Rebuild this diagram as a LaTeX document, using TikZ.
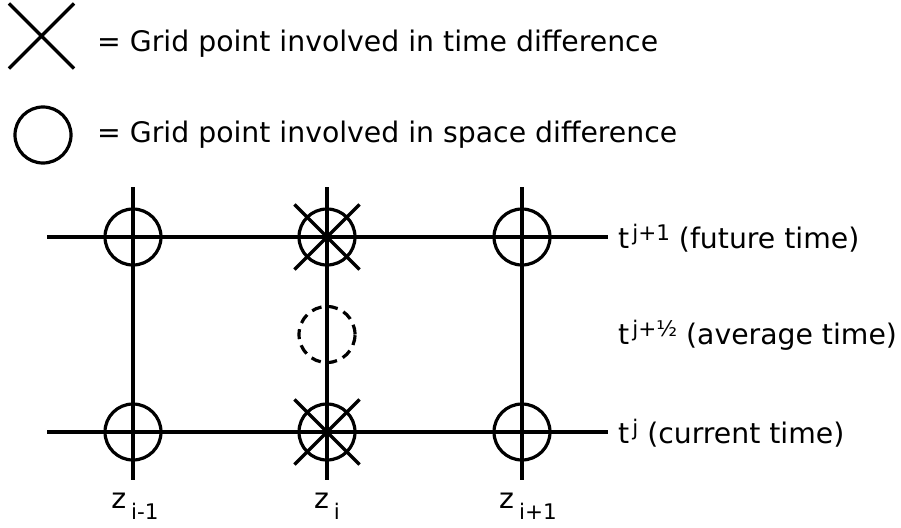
\documentclass[tikz,border=0pt]{standalone}
\usepackage{fontspec}
\setmainfont{DejaVu Sans}
\usetikzlibrary{shapes.misc, positioning}
\tikzstyle{gridline} = [line width=3.2pt]
\tikzstyle{spacept} = [circle, draw=black, line width=3.2pt,
minimum size=56pt, inner sep=0pt]
\tikzstyle{avgpt} = [spacept, dash pattern=on 10pt off 6.5pt]
\tikzstyle{timept} = [cross out, draw=black, line width=3.2pt,
minimum size=62pt, inner sep=0pt]
\tikzstyle{lbl} = [anchor=base west, inner sep=0pt,
font=\fontsize{28.3}{32}\selectfont]
\newcommand{\tsup}[1]{\kern3pt\raisebox{8pt}{\fontsize{21.5}{24}\selectfont #1}}
\newcommand{\zsub}[1]{\kern5pt\raisebox{-11pt}{\fontsize{21.5}{24}\selectfont #1}}

\begin{document}
\begin{tikzpicture}[x=1pt, y=-1pt]
        \useasboundingbox (0,0) rectangle (901,527);

        % Legend
        \node (keyx) [timept] at (41.5,36) {};
        \node (keyo) [spacept] at (43,135) {};
        \node (keyxtext) [lbl] at (97,52) {= Grid point involved in time difference};
        \node (keyotext) [lbl] at (97,142) {= Grid point involved in space difference};

        % Line ends
        \coordinate (futw) at (47,237);
        \coordinate (fute) at (608,237);
        \coordinate (curw) at (47,432);
        \coordinate (cure) at (608,432);
        \coordinate (zatop) at (133,187);
        \coordinate (zabot) at (133,480);
        \coordinate (zbtop) at (327,187);
        \coordinate (zbbot) at (327,480);
        \coordinate (zctop) at (522,187);
        \coordinate (zcbot) at (522,480);

        % Grid lines
        \draw [gridline] (futw) -- (fute);
        \draw [gridline] (curw) -- (cure);
        \draw [gridline] (zatop) -- (zabot);
        \draw [gridline] (zbtop) -- (zbbot);
        \draw [gridline] (zctop) -- (zcbot);

        % Grid points
        \node (afut) [spacept] at (133,237) {};
        \node (bfut) [spacept] at (327,237) {};
        \node (cfut) [spacept] at (522,237) {};
        \node (acur) [spacept] at (133,432) {};
        \node (bcur) [spacept] at (327,432) {};
        \node (ccur) [spacept] at (522,432) {};
        \node (bavg) [avgpt] at (327,334.5) {};
        \node (xfut) [timept] at (bfut) {};
        \node (xcur) [timept] at (bcur) {};

        % Labels
        \node (tfut) [lbl] at (618,248) {t\tsup{j+1} (future time)};
        \node (tavg) [lbl] at (618,344) {t\tsup{j+½} (average time)};
        \node (tcur) [lbl] at (618,443) {t\tsup{j} (current time)};
        \node (za) [lbl, anchor=base] at (135,508) {z\zsub{i-1}};
        \node (zb) [lbl, anchor=base] at (327,508) {z\zsub{i}};
        \node (zc) [lbl, anchor=base] at (528,508) {z\zsub{i+1}};

    \end{tikzpicture}
\end{document}
